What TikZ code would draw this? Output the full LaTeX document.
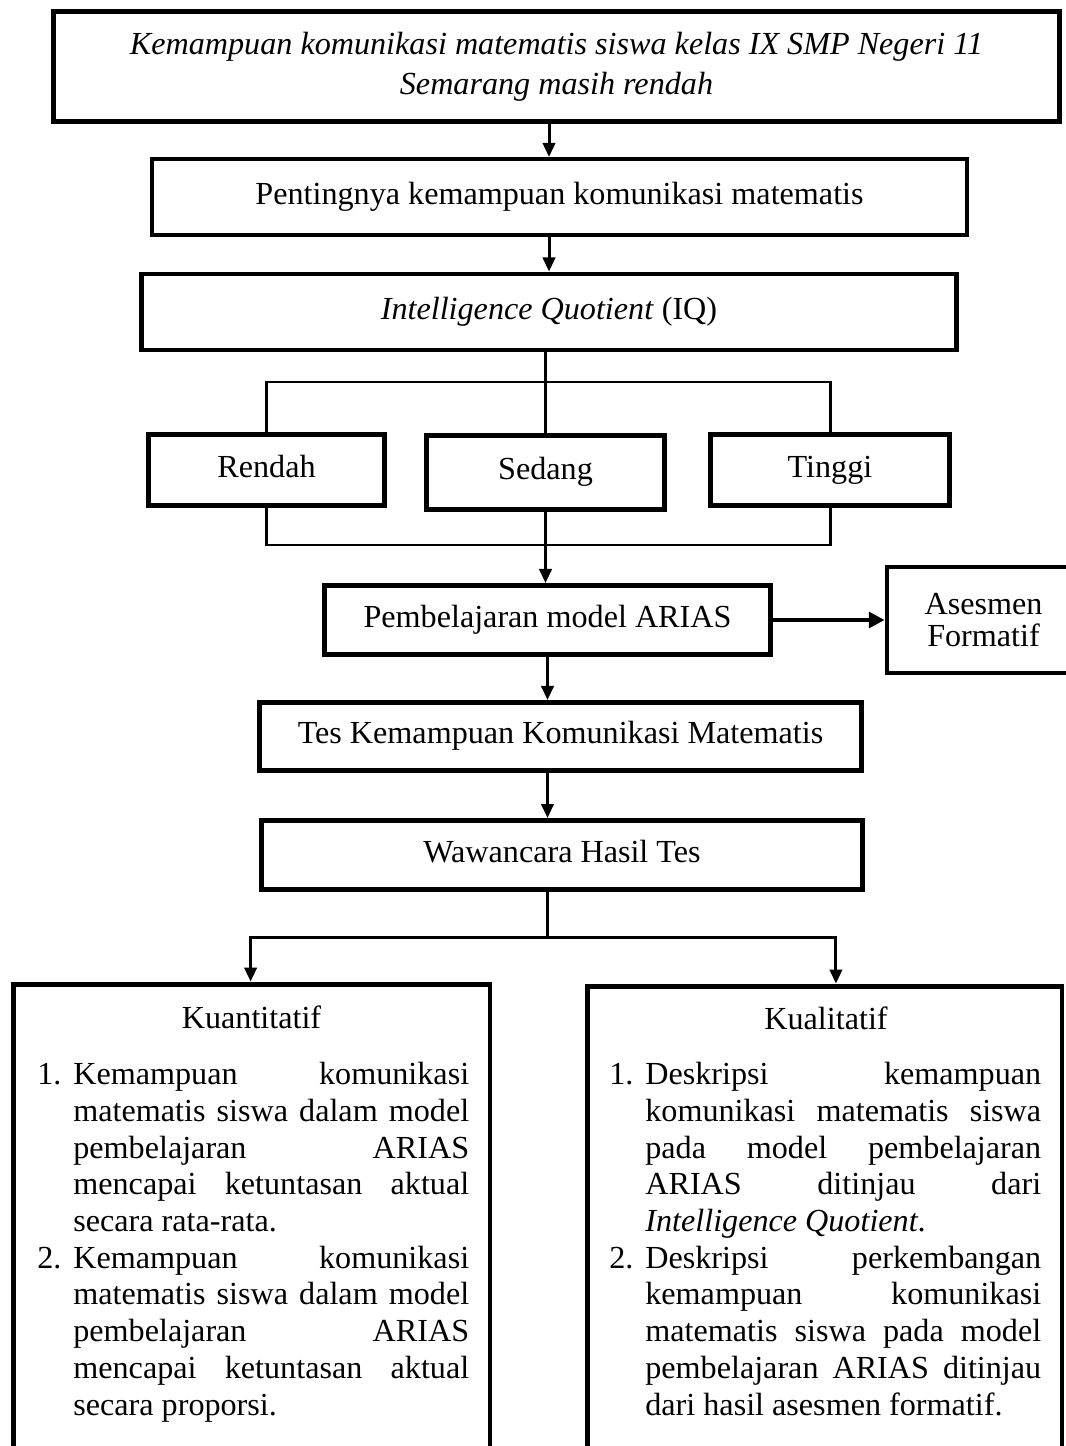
\documentclass[tikz,border=0pt]{standalone}
\usepackage{fontspec}
\setmainfont{Liberation Serif}
\usetikzlibrary{arrows.meta}
\newcommand{\butir}[2]{\hangindent=20.5pt\hangafter=1\noindent\makebox[20.5pt][l]{#1}#2\par}

\begin{document}
\begin{tikzpicture}[x=0.02cm, y=-0.02cm,
    box/.style={draw, line width=2.8pt, inner sep=0pt, align=center, text height=1.05em, text depth=0.25em, font=\fontsize{18.3}{21}\selectfont},
    line/.style={line width=1.7pt},
    arrow/.style={line width=1.7pt, -{Triangle[length=8pt,width=7pt]}}]
    \useasboundingbox (0,0) rectangle (1065,1446);

    % Draw the main chain of boxes
    \node[box, text height=, text depth=, minimum width=20.12cm, minimum height=2.2cm, font=\fontsize{18.3}{22.8}\selectfont\itshape] (masalah) at (556.5,66.5) {Kemampuan komunikasi matematis siswa kelas IX SMP Negeri 11\\Semarang masih rendah};
    \node[box, line width=2.3pt, minimum width=16.3cm, minimum height=1.52cm] (penting) at (559.5,197) {Pentingnya kemampuan komunikasi matematis};
    \node[box, minimum width=16.32cm, minimum height=1.52cm] (iq) at (549,312) {\textit{Intelligence Quotient} (IQ)};

    % Draw the IQ levels
    \node[box, minimum width=4.72cm, minimum height=1.42cm] (rendah) at (266.5,470) {Rendah};
    \node[box, minimum width=4.76cm, minimum height=1.48cm] (sedang) at (545.5,472.5) {Sedang};
    \node[box, minimum width=4.78cm, minimum height=1.42cm] (tinggi) at (830,470) {Tinggi};

    \node[box, minimum width=8.92cm, minimum height=1.38cm] (arias) at (547.5,620) {Pembelajaran model ARIAS};
    \node[box, text height=, text depth=, minimum width=3.86cm, minimum height=2.12cm, font=\fontsize{18.3}{18.2}\selectfont] (asesmen) at (983.5,620) {Asesmen\\Formatif};
    \node[box, minimum width=12.04cm, minimum height=1.36cm] (tes) at (560.5,736.5) {Tes Kemampuan Komunikasi Matematis};
    \node[box, minimum width=12.04cm, minimum height=1.38cm] (wawancara) at (562,855) {Wawancara Hasil Tes};

    % Draw the two result boxes (cut off at the bottom)
    \node[box, minimum width=9.54cm, minimum height=10.72cm] (kuanti) at (251.5,1252) {};
    \node[box, minimum width=9.5cm, minimum height=10.68cm] (kuali) at (824.5,1253) {};

    \node[font=\fontsize{18.3}{21}\selectfont] (judulkuanti) at (251.5,1017) {Kuantitatif};
    \node[font=\fontsize{18.3}{21}\selectfont] (judulkuali) at (826,1018) {Kualitatif};

    \node[anchor=north west, inner sep=0pt, text width=245.8pt, align=justify, font=\fontsize{18.3}{20.9}\selectfont] (isikuanti) at (37,1062) {%
      \butir{1.}{Kemampuan komunikasi\linebreak matematis siswa dalam model\linebreak pembelajaran ARIAS\linebreak mencapai ketuntasan aktual\linebreak secara rata-rata.}
      \butir{2.}{Kemampuan komunikasi\linebreak matematis siswa dalam model\linebreak pembelajaran ARIAS\linebreak mencapai ketuntasan aktual\linebreak secara proporsi.}};
    \node[anchor=north west, inner sep=0pt, text width=245.8pt, align=justify, font=\fontsize{18.3}{20.9}\selectfont] (isikuali) at (609,1062) {%
      \butir{1.}{Deskripsi kemampuan\linebreak komunikasi matematis siswa\linebreak pada model pembelajaran\linebreak ARIAS ditinjau dari\linebreak \textit{Intelligence Quotient}.}
      \butir{2.}{Deskripsi perkembangan\linebreak kemampuan komunikasi\linebreak matematis siswa pada model\linebreak pembelajaran ARIAS ditinjau\linebreak dari hasil asesmen formatif.}};

    % Branch points
    \coordinate (atas) at (545,382);
    \coordinate (bawah) at (545,545);
    \coordinate (cabang) at (547,937);

    % Add arrows and lines
    \draw[arrow] (masalah.south -| iq.north) -- (penting.north -| iq.north);
    \draw[arrow] (penting.south -| iq.north) -- (iq.north);
    \draw[line] (iq.south -| sedang.north) -- (sedang.north);
    \draw[line] (rendah.north) |- (atas) -| (tinggi.north);
    \draw[line] (rendah.south) |- (bawah) -| (tinggi.south);
    \draw[arrow] (sedang.south) -- (sedang.south |- arias.north);
    \draw[line width=2.8pt, -{Triangle[length=9pt,width=9pt]}] (arias.east) -- (asesmen.west);
    \draw[arrow] (arias.south) -- (arias.south |- tes.north);
    \draw[arrow] (tes.south -| arias.south) -- (wawancara.north -| arias.south);
    \draw[line] (wawancara.south -| cabang) -- (cabang);
    \draw[arrow] (cabang) -| ([xshift=-0.5]kuanti.north);
    \draw[arrow] (cabang) -| ([xshift=6.5]kuali.north);
\end{tikzpicture}
\end{document}
